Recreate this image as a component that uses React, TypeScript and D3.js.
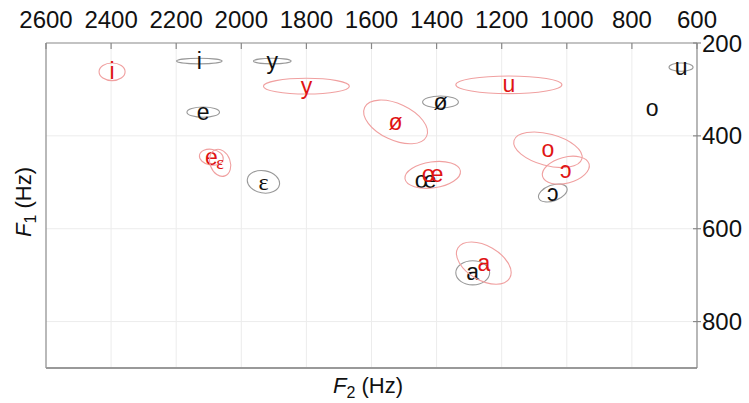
import React from "react";
import * as d3 from "d3";

// ---- data (Hz) ----
const f2Ticks = [2600, 2400, 2200, 2000, 1800, 1600, 1400, 1200, 1000, 800, 600];
const f1Ticks = [200, 400, 600, 800];

const blackVowels = ["i", "y", "e", "ɛ", "ø", "u", "o", "œ", "ɔ", "a"];
const blackF2 = [2129, 1905, 2117, 1932, 1388, 649, 738, 1434, 1043, 1289];
const blackF1 = [239, 239, 349, 499, 327, 252, 340, 495, 523, 695];
const blackSdF2 = [70, 58, 50, 50, 55, 37, 0, 0, 46, 52];
const blackSdF1 = [6, 6, 11, 24, 13, 9, 0, 0, 17, 26];
const blackAngle = [0, 0, 0, 10, 0, 0, 0, 0, -20, 0];

const redVowels = ["i", "y", "u", "ø", "e", "ɛ", "œ", "o", "ɔ", "a"];
const redF2 = [2397, 1800, 1178, 1526, 2092, 2065, 1412, 1058, 1003, 1255];
const redF1 = [262, 293, 290, 370, 446, 458, 484, 430, 474, 674];
const redSdF2 = [40, 132, 163, 105, 37, 31, 86, 108, 74, 92];
const redSdF1 = [19, 17, 19, 39, 17, 30, 28, 34, 28, 37];
const redAngle = [0, 0, 0, 25, 10, -20, -8, 15, -15, 30];

const W = 749;
const H = 403;
const M = { left: 46, right: 697, top: 43, bottom: 368 };
const FONT = "'Liberation Sans', Arial, sans-serif";
const SERIF = "'Liberation Serif', 'Times New Roman', serif";

export default function App() {
  const x = d3.scaleLinear().domain([2600, 600]).range([M.left, M.right]);
  const y = d3.scaleLinear().domain([200, 900]).range([M.top, M.bottom]);
  const kx = Math.abs(x(1) - x(0));
  const ky = Math.abs(y(1) - y(0));

  const group = (
    vowels: string[],
    f2: number[],
    f1: number[],
    s2: number[],
    s1: number[],
    ang: number[],
    stroke: string,
    fill: string,
    key: string
  ) =>
    vowels.map((v, i) => {
      const cx = x(f2[i]);
      const cy = y(f1[i]);
      const small = key === "red" && v === "ɛ";
      const serif = v === "ɛ";
      return (
        <g key={key + i}>
          {s2[i] > 0 && (
            <ellipse
              cx={cx}
              cy={cy}
              rx={s2[i] * kx}
              ry={s1[i] * ky}
              transform={`rotate(${ang[i]} ${cx} ${cy})`}
              fill="none"
              stroke={stroke}
              strokeWidth={1.1}
            />
          )}
          <text
            x={cx}
            y={cy}
            dy="0.33em"
            textAnchor="middle"
            fontFamily={serif ? SERIF : FONT}
            fontSize={small ? 18 : serif ? 24 : 23}
            fill={fill}
          >
            {v}
          </text>
        </g>
      );
    });

  return (
    <svg width={W} height={H} style={{ position: "absolute", left: 0, top: 0, background: "#fff" }}>
      <rect x={0} y={0} width={W} height={H} fill="#fff" />
      {/* grid */}
      {f2Ticks.slice(1, -1).map((t) => (
        <line key={"gx" + t} x1={x(t)} x2={x(t)} y1={M.top} y2={M.bottom} stroke="#ececec" strokeWidth={1} />
      ))}
      {f1Ticks.slice(1).map((t) => (
        <line key={"gy" + t} x1={M.left} x2={M.right} y1={y(t)} y2={y(t)} stroke="#ececec" strokeWidth={1} />
      ))}
      {/* frame */}
      <line x1={M.left} x2={M.left} y1={M.top} y2={M.bottom} stroke="#8a8a8a" strokeWidth={1.2} />
      <line x1={M.left} x2={M.right} y1={M.bottom} y2={M.bottom} stroke="#999" strokeWidth={2} />
      <line x1={M.left} x2={M.right} y1={M.top} y2={M.top} stroke="#888" strokeWidth={1.2} />
      <line x1={M.right} x2={M.right} y1={M.top} y2={M.bottom} stroke="#888" strokeWidth={1.2} />
      {/* top axis */}
      {f2Ticks.map((t) => (
        <g key={"tx" + t}>
          <line x1={x(t)} x2={x(t)} y1={M.top} y2={M.top + 6} stroke="#888" strokeWidth={1.2} />
          <text x={x(t)} y={28} textAnchor="middle" fontFamily={FONT} fontSize={24} fill="#111">
            {t}
          </text>
        </g>
      ))}
      {/* right axis */}
      {f1Ticks.map((t) => (
        <g key={"ty" + t}>
          <line x1={M.right - 4} x2={M.right + 4} y1={y(t)} y2={y(t)} stroke="#888" strokeWidth={1.2} />
          <text x={M.right + 5} y={y(t)} dy="0.36em" textAnchor="start" fontFamily={FONT} fontSize={24} fill="#111">
            {t}
          </text>
        </g>
      ))}
      {/* axis titles */}
      <text x={368} y={393} textAnchor="middle" fontFamily={FONT} fontSize={22} fill="#111">
        <tspan fontStyle="italic">F</tspan>
        <tspan fontSize={16} dy={5}>2</tspan>
        <tspan dy={-5}> (Hz)</tspan>
      </text>
      <text
        transform={`translate(31, 202) rotate(-90)`}
        textAnchor="middle"
        fontFamily={FONT}
        fontSize={22}
        fill="#111"
      >
        <tspan fontStyle="italic">F</tspan>
        <tspan fontSize={16} dy={5}>1</tspan>
        <tspan dy={-5}> (Hz)</tspan>
      </text>
      {/* vowels */}
      {group(blackVowels, blackF2, blackF1, blackSdF2, blackSdF1, blackAngle, "#999", "#111", "black")}
      {group(redVowels, redF2, redF1, redSdF2, redSdF1, redAngle, "#f0a0a0", "#e01414", "red")}
    </svg>
  );
}
